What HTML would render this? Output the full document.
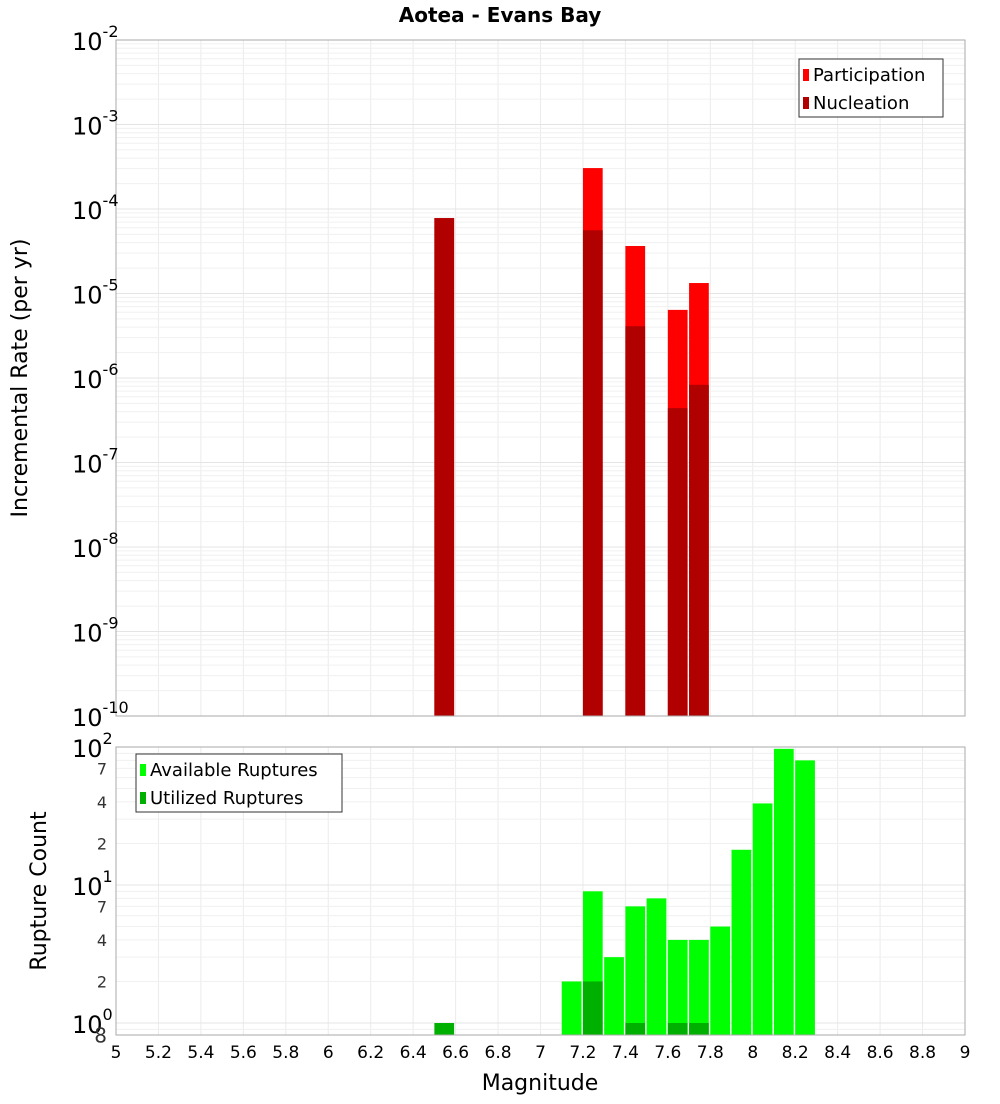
<!DOCTYPE html>
<html><head><meta charset="utf-8"><style>
body{margin:0;background:#fff;font-family:"DejaVu Sans","Liberation Sans",sans-serif}
svg text{font-family:"DejaVu Sans","Liberation Sans",sans-serif}
</style></head><body>
<svg id="c" width="1000" height="1100" xmlns="http://www.w3.org/2000/svg">
<text x="500" y="22" text-anchor="middle" font-size="20" font-weight="bold">Aotea - Evans Bay</text>
<text transform="translate(27,378) rotate(-90)" text-anchor="middle" font-size="22">Incremental Rate (per yr)</text>
<text transform="translate(46,891) rotate(-90)" text-anchor="middle" font-size="22">Rupture Count</text>
<text x="540" y="1090" text-anchor="middle" font-size="22">Magnitude</text>
<g id="top"></g><g id="bot"></g>
</svg>
<script>
const binStarts=[6.5,7.2,7.4,7.6,7.7];
const participation=[7.8e-5,3.05e-4,3.65e-5,6.4e-6,1.33e-5];
const nucleation=[7.8e-5,5.6e-5,4.1e-6,4.4e-7,8.3e-7];
const countBins=[7.1,7.2,7.3,7.4,7.5,7.6,7.7,7.8,7.9,8.0,8.1,8.2];
const available=[2,9,3,7,8,4,4,5,18,39,97,80];
const utilBins=[6.5,7.2,7.4,7.6,7.7];
const utilized=[1,2,1,1,1];
const xTicks=[5,5.2,5.4,5.6,5.8,6,6.2,6.4,6.6,6.8,7,7.2,7.4,7.6,7.8,8,8.2,8.4,8.6,8.8,9];
const NS="http://www.w3.org/2000/svg";
const X0=116,X1=965;
const x=m=>X0+(m-5)/4*(X1-X0);
const TY0=40,TY1=716;
const yT=v=>TY0+(-2-Math.log10(v))/8*(TY1-TY0);
const BY0=747,BY1=1035,BD=138;
const yB=v=>BY0+(2-Math.log10(v))*BD;
function el(p,t,a){const e=document.createElementNS(NS,t);for(const k in a)e.setAttribute(k,a[k]);p.appendChild(e);return e;}
const gTop=document.getElementById('top'),gBot=document.getElementById('bot');
function vgrid(g,y0,y1){for(let i=1;i<20;i++){const m=5+i*0.2;const l=el(g,'line',{x1:x(m),x2:x(m),y1:y0,y2:y1,stroke:'#ebebeb'});

}}
vgrid(gTop,TY0,TY1);vgrid(gBot,BY0,BY1);
for(let d=-10;d<-2;d++)for(let k=1;k<10;k++){const v=k*Math.pow(10,d);const y=yT(v);if(y<TY0||y>TY1)continue;
const l=el(gTop,'line',{x1:X0,x2:X1,y1:y,y2:y,stroke:k==1?'#e4e4e4':'#f0f0f0'});

}
for(let d=-1;d<2;d++)for(let k=1;k<10;k++){const v=k*Math.pow(10,d);const y=yB(v);if(y<BY0||y>BY1)continue;
const l=el(gBot,'line',{x1:X0,x2:X1,y1:y,y2:y,stroke:k==1?'#e4e4e4':'#f0f0f0'});

}
const bw=x(5.1)-x(5)-1.5;
participation.forEach((v,i)=>{const r=el(gTop,'rect',{x:x(binStarts[i]),y:yT(v),width:bw,height:TY1-yT(v),fill:'#ff0000'});

});
nucleation.forEach((v,i)=>{const r=el(gTop,'rect',{x:x(binStarts[i]),y:yT(v),width:bw,height:TY1-yT(v),fill:'#b00000'});

});
available.forEach((v,i)=>{const r=el(gBot,'rect',{x:x(countBins[i]),y:yB(v),width:bw,height:BY1-yB(v),fill:'#00ff00'});

});
utilized.forEach((v,i)=>{const r=el(gBot,'rect',{x:x(utilBins[i]),y:yB(v),width:bw,height:BY1-yB(v),fill:'#00b000'});

});
let f=el(gTop,'rect',{x:X0,y:TY0,width:X1-X0,height:TY1-TY0,fill:'none',stroke:'#aaa'});


f=el(gBot,'rect',{x:X0,y:BY0,width:X1-X0,height:BY1-BY0,fill:'none',stroke:'#aaa'});


for(let d=-10;d<=-2;d++){const y=yT(Math.pow(10,d));const t=el(gTop,'text',{x:72,y:y+10,'font-size':24});


t.textContent='10';const s=el(t,'tspan',{dy:-13,'font-size':16});s.textContent=String(d);}
[[100,'2'],[10,'1'],[1,'0']].forEach(([v,e])=>{const y=yB(v);const t=el(gBot,'text',{x:72,y:y+10,'font-size':24});


t.textContent='10';const s=el(t,'tspan',{dy:-13,'font-size':16});s.textContent=e;});
[[70,'7'],[40,'4'],[20,'2'],[7,'7'],[4,'4'],[2,'2'],[0.8,'8']].forEach(([v,s])=>{const y=yB(v);
const t=el(gBot,'text',{x:107,y:y+6,'text-anchor':'end','font-size':v==0.8?20:16,fill:'#333'});


t.textContent=s;});
xTicks.forEach(m=>{const t=el(gBot,'text',{x:x(m),y:1058,'text-anchor':'middle','font-size':17});


t.textContent=String(m);});
function legend(g,x0,y0,w,items){const b=el(g,'rect',{x:x0,y:y0,width:w,height:58,fill:'#fff',stroke:'#333'});


items.forEach(([c,l],i)=>{const r=el(g,'rect',{x:x0+4,y:y0+10+i*28,width:6,height:12,fill:c});


const t=el(g,'text',{x:x0+14,y:y0+22+i*28,'font-size':18});


t.textContent=l;});}
legend(gTop,799,59,144,[['#ff0000','Participation'],['#b00000','Nucleation']]);
legend(gBot,136,754,206,[['#00ff00','Available Ruptures'],['#00b000','Utilized Ruptures']]);
</script>
</body></html>
